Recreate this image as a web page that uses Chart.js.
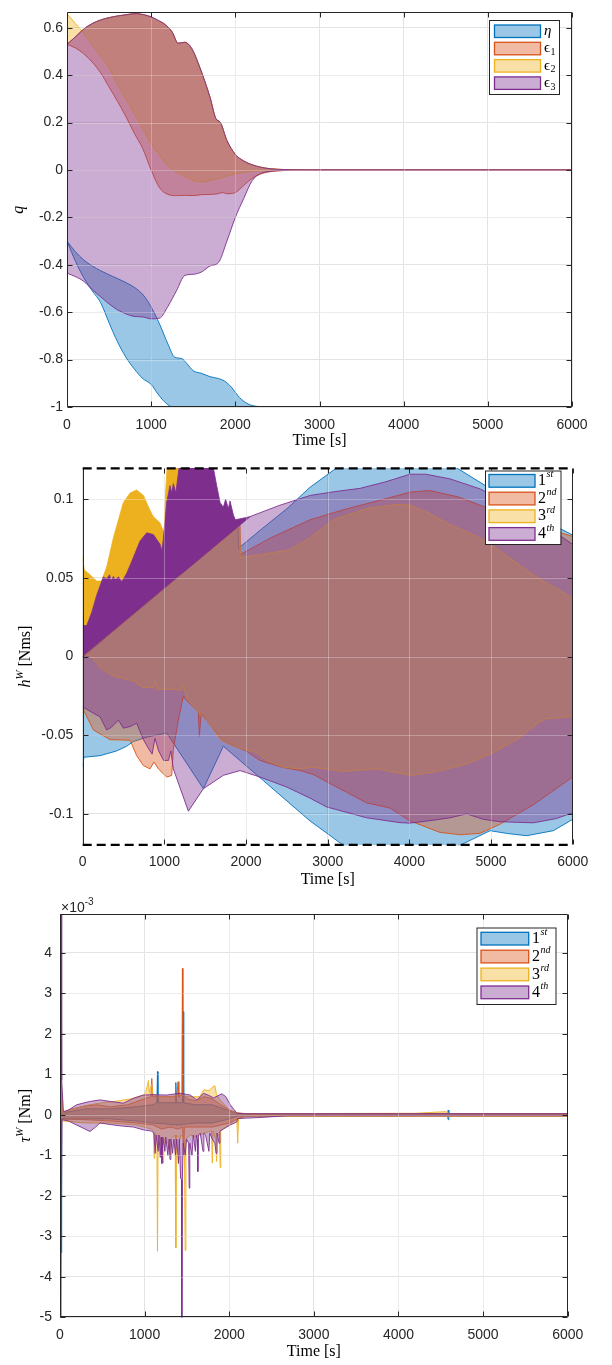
<!DOCTYPE html>
<html>
<head>
<meta charset="utf-8">
<script src="https://cdn.jsdelivr.net/npm/chart.js@4.4.1/dist/chart.umd.min.js"></script>
<style>
  body { margin: 0; background: #fff; width: 612px; height: 1365px; position: relative; overflow: hidden; }
  canvas { position: absolute; left: 0; }
</style>
</head>
<body>
<canvas id="qChart" width="612" height="450" style="top:0px"></canvas>
<canvas id="hChart" width="612" height="445" style="top:450px"></canvas>
<canvas id="tauChart" width="612" height="470" style="top:895px"></canvas>
<script>
// ===== TICKS / LABELS =====
const timeTicks = [0, 1000, 2000, 3000, 4000, 5000, 6000];
const qTicks = [-1, -0.8, -0.6, -0.4, -0.2, 0, 0.2, 0.4, 0.6];
const hTicks = [-0.1, -0.05, 0, 0.05, 0.1];
const tauTicks = [-5, -4, -3, -2, -1, 0, 1, 2, 3, 4];

const qNames = [{ b: 'η', italic: true }, { b: 'ϵ', sub: '1' }, { b: 'ϵ', sub: '2' }, { b: 'ϵ', sub: '3' }];
const wheelNames = [{ b: '1', sup: 'st' }, { b: '2', sup: 'nd' }, { b: '3', sup: 'rd' }, { b: '4', sup: 'th' }];

// ===== PANEL 1: quaternion envelopes [time s, q] =====
const etaUpper = [[0,-0.30],[100,-0.345],[200,-0.38],[300,-0.405],[400,-0.425],[500,-0.442],[600,-0.458],[700,-0.475],[800,-0.495],[900,-0.525],[1000,-0.578],[1100,-0.65],[1200,-0.735],[1280,-0.79],[1360,-0.795],[1420,-0.815],[1500,-0.847],[1600,-0.858],[1700,-0.872],[1800,-0.88],[1870,-0.89],[1950,-0.915],[2050,-0.96],[2150,-0.987],[2250,-0.997],[2400,-1],[6000,-1]];
const etaLower = [[0,-0.30],[100,-0.385],[200,-0.455],[300,-0.51],[400,-0.56],[500,-0.645],[600,-0.725],[700,-0.79],[800,-0.84],[900,-0.88],[1000,-0.905],[1080,-0.945],[1180,-0.985],[1260,-1],[6000,-1]];
const epsTop = [[0,0.53],[100,0.562],[200,0.595],[300,0.618],[400,0.633],[500,0.643],[600,0.65],[700,0.655],[820,0.66],[900,0.656],[1000,0.646],[1100,0.628],[1150,0.618],[1250,0.582],[1320,0.535],[1400,0.539],[1480,0.514],[1580,0.431],[1700,0.306],[1770,0.216],[1820,0.202],[1900,0.125],[2000,0.066],[2100,0.038],[2200,0.022],[2300,0.012],[2400,0.006],[2500,0.003],[2650,0.001],[2800,0],[6000,0]];
const eps1Lower = [[0,0.53],[100,0.515],[200,0.49],[300,0.455],[400,0.41],[500,0.35],[600,0.29],[700,0.225],[800,0.155],[900,0.09],[1000,0.0],[1100,-0.075],[1200,-0.103],[1300,-0.108],[1400,-0.107],[1500,-0.108],[1600,-0.104],[1700,-0.103],[1800,-0.1],[1850,-0.095],[1900,-0.1],[2000,-0.095],[2100,-0.065],[2200,-0.035],[2300,-0.017],[2400,-0.008],[2500,-0.004],[2600,-0.002],[2800,0],[6000,0]];
const eps2Lower = [[0,0.66],[100,0.618],[200,0.576],[300,0.528],[400,0.479],[500,0.43],[600,0.361],[700,0.299],[800,0.236],[900,0.174],[1000,0.111],[1100,0.063],[1200,0.018],[1300,-0.01],[1400,-0.027],[1500,-0.045],[1600,-0.05],[1700,-0.044],[1800,-0.036],[1900,-0.025],[2000,-0.016],[2100,-0.01],[2200,-0.005],[2300,-0.003],[2400,-0.001],[2600,0],[6000,0]];
const eps3Lower = [[0,-0.435],[100,-0.45],[200,-0.47],[300,-0.505],[400,-0.535],[500,-0.565],[600,-0.59],[700,-0.607],[800,-0.618],[900,-0.62],[1000,-0.628],[1100,-0.625],[1200,-0.575],[1300,-0.51],[1400,-0.445],[1500,-0.44],[1600,-0.43],[1700,-0.405],[1800,-0.39],[1900,-0.3],[2000,-0.2],[2100,-0.12],[2200,-0.045],[2300,-0.015],[2400,-0.006],[2500,-0.003],[2600,-0.001],[2700,0],[6000,0]];

// ===== PANEL 2: wheel momentum envelopes [time s, Nms] =====
const h1Upper = [[0,0],[1850,0.0803],[1900,0.0825],[1910,0.069],[2200,0.0815],[2500,0.094],[2784,0.1077],[3110,0.12],[3500,0.128],[3850,0.1305],[4250,0.127],[4580,0.12],[4866,0.1108],[5200,0.1],[5600,0.088],[6000,0.0773]];
const h1Lower = [[0,-0.07],[15,-0.064],[212,-0.063],[416,-0.06],[539,-0.057],[620,-0.054],[800,-0.051],[1029,-0.0486],[1478,-0.084],[1722,-0.057],[2200,-0.0783],[2784,-0.1045],[3192,-0.12],[3900,-0.127],[4620,-0.12],[4988,-0.1107],[5200,-0.1125],[5436,-0.1139],[5763,-0.1107],[6000,-0.1035]];
const h2Upper = [[0,0],[1870,0.0812],[1925,0.0835],[1932,0.065],[2300,0.0755],[2784,0.087],[3200,0.0935],[3682,0.1],[4009,0.1046],[4254,0.1056],[4600,0.1015],[4866,0.0963],[5300,0.088],[5700,0.081],[6000,0.0765]];
const h2Lower = [[0,-0.033],[131,-0.0466],[335,-0.0528],[580,-0.0532],[661,-0.063],[743,-0.0693],[824,-0.0714],[873,-0.067],[927,-0.0714],[1029,-0.0766],[1090,-0.0756],[1110,-0.059],[1171,-0.0404],[1233,-0.025],[1273,-0.028],[1416,-0.0352],[1429,-0.0507],[1449,-0.0362],[1722,-0.0538],[2000,-0.06],[2171,-0.066],[2450,-0.0705],[2661,-0.0724],[2824,-0.075],[3069,-0.0818],[3477,-0.093],[3763,-0.0963],[4009,-0.1045],[4375,-0.1118],[4620,-0.1133],[4865,-0.1124],[5110,-0.1066],[5518,-0.0942],[6000,-0.0766]];
const h3Upper = [[0,0],[1870,0.081],[1925,0.0835],[1932,0.063],[2200,0.065],[2539,0.068],[2784,0.0756],[3070,0.087],[3478,0.0942],[3846,0.0967],[4009,0.0963],[4250,0.091],[4498,0.0839],[4866,0.0756],[5111,0.0673],[5519,0.0518],[6000,0.0373]];
const h3Lower = [[0,0.002],[110,0],[212,-0.0072],[376,-0.0124],[620,-0.0155],[743,-0.0197],[865,-0.0197],[886,-0.0155],[910,-0.021],[1110,-0.0207],[1200,-0.0215],[1233,-0.0186],[1273,-0.027],[1437,-0.037],[1518,-0.0404],[1682,-0.0528],[1845,-0.057],[2131,-0.0611],[2253,-0.0662],[2457,-0.0704],[2661,-0.0714],[2824,-0.0704],[3192,-0.073],[3600,-0.0714],[4009,-0.0755],[4294,-0.0735],[4702,-0.0683],[4988,-0.0621],[5314,-0.0528],[5600,-0.0414],[5680,-0.0395],[6000,-0.0383]];
const h4Upper = [[0,0],[1950,0.0847],[2049,0.089],[2400,0.096],[2786,0.1025],[3100,0.105],[3397,0.107],[3700,0.111],[4009,0.116],[4200,0.116],[4500,0.113],[4868,0.1066],[5300,0.095],[5700,0.082],[6000,0.0714]];
const h4Lower = [[0,-0.032],[131,-0.036],[212,-0.0383],[294,-0.0466],[350,-0.045],[437,-0.0404],[498,-0.0455],[580,-0.0445],[661,-0.0424],[743,-0.0528],[800,-0.058],[850,-0.062],[885,-0.052],[930,-0.06],[990,-0.066],[1050,-0.066],[1080,-0.06],[1110,-0.0714],[1294,-0.0983],[1478,-0.084],[1722,-0.0755],[1927,-0.0725],[2171,-0.0766],[2500,-0.083],[2784,-0.09],[2987,-0.0956],[3477,-0.1025],[3886,-0.1056],[4009,-0.1059],[4300,-0.104],[4498,-0.1025],[4702,-0.1],[4906,-0.1035],[5110,-0.105],[5518,-0.1057],[5800,-0.103],[6000,-0.0993]];
// early saturated bursts (opaque patches above the ramp)
const h4Burst = [[0,0.0197],[49,0.0197],[110,0.028],[171,0.039],[253,0.0507],[290,0.0495],[330,0.052],[345,0.048],[375,0.051],[400,0.049],[437,0.0507],[478,0.0476],[539,0.053],[620,0.063],[702,0.0735],[784,0.0787],[865,0.0776],[947,0.0714],[967,0.0673],[985,0.0735],[1029,0.0983],[1069,0.1087],[1090,0.104],[1110,0.11],[1140,0.104],[1192,0.125],[1559,0.125],[1600,0.12],[1641,0.1087],[1682,0.098],[1722,0.095],[1750,0.1],[1784,0.094],[1804,0.099],[1845,0.09],[1869,0.087],[2049,0.089]];
const h3Burst = [[0,0.063],[20,0.055],[90,0.052],[171,0.048],[230,0.048],[294,0.057],[376,0.0756],[498,0.098],[580,0.104],[661,0.106],[743,0.1025],[824,0.093],[865,0.089],[947,0.085],[985,0.08],[995,0.075],[1010,0.1],[1040,0.125],[1200,0.125],[1215,0.12]];

// ===== PANEL 3: wheel torque envelopes [time s, 1e-3 Nm] =====
const tau1Upper = [[0,0.2],[14,0.05],[40,0.05],[300,0.15],[600,0.15],[900,0.2],[1100,0.25],[1145,0.3],[1152,1.07],[1158,0.3],[1300,0.3],[1362,0.3],[1369,0.8],[1375,0.3],[1448,0.3],[1455,2.55],[1462,0.3],[1600,0.25],[1800,0.25],[2000,0.1],[2100,0.03],[4580,0.03],[4588,0.12],[4595,0.03],[6000,0.03]];
const tau1Lower = [[0,-0.1],[8,-5.2],[13,-3.4],[20,-0.1],[40,-0.1],[300,-0.1],[600,-0.1],[900,-0.15],[1100,-0.2],[1400,-0.25],[1600,-0.2],[1800,-0.2],[2000,-0.1],[2100,-0.03],[4580,-0.03],[4588,-0.12],[4595,-0.03],[6000,-0.03]];
const tau2Upper = [[0,0.2],[10,0.9],[16,0.85],[28,0.05],[100,0.12],[300,0.22],[430,0.25],[600,0.2],[800,0.25],[1000,0.4],[1075,0.45],[1085,0.9],[1095,0.45],[1200,0.45],[1380,0.45],[1395,0.82],[1405,0.45],[1440,0.5],[1447,3.62],[1453,0.5],[1500,0.4],[1600,0.35],[1700,0.45],[1800,0.4],[1900,0.25],[2000,0.12],[2100,0.05],[2200,0.03],[6000,0.03]];
const tau2Lower = [[0,-0.3],[10,-0.1],[40,-0.1],[300,-0.12],[600,-0.15],[900,-0.2],[1100,-0.25],[1200,-0.35],[1300,-0.3],[1400,-0.35],[1450,-0.3],[1460,-1.0],[1470,-0.3],[1600,-0.3],[1800,-0.3],[1900,-0.25],[2000,-0.2],[2100,-0.1],[2200,-0.03],[6000,-0.03]];
const tau3Upper = [[0,0.3],[8,4.5],[13,3.8],[18,0.5],[34,0.05],[100,0.12],[250,0.2],[350,0.25],[500,0.3],[700,0.35],[850,0.4],[1000,0.5],[1030,0.7],[1045,0.85],[1055,0.55],[1080,0.75],[1100,0.5],[1200,0.45],[1300,0.45],[1380,0.48],[1440,0.5],[1500,0.45],[1580,0.45],[1650,0.45],[1700,0.62],[1760,0.6],[1800,0.68],[1830,0.72],[1850,0.5],[1900,0.35],[2000,0.12],[2100,0.04],[2200,0.03],[4200,0.04],[4560,0.08],[4600,0.03],[6000,0.03]];
const tau3Lower = [[0,-0.5],[10,-0.2],[40,-0.15],[300,-0.2],[600,-0.2],[900,-0.25],[1080,-0.35],[1105,-0.4],[1112,-1.07],[1120,-0.45],[1145,-0.5],[1152,-3.37],[1160,-0.5],[1190,-0.6],[1215,-1.1],[1223,-1.19],[1232,-0.6],[1280,-0.7],[1300,-1.0],[1310,-0.6],[1360,-0.5],[1369,-3.29],[1376,-0.5],[1420,-0.6],[1430,-0.5],[1470,-0.6],[1479,-3.35],[1488,-0.6],[1540,-0.5],[1600,-0.55],[1700,-0.45],[1790,-0.4],[1800,-1.19],[1810,-0.4],[1840,-0.6],[1850,-1.15],[1860,-0.5],[1885,-0.5],[1893,-1.3],[1900,-0.4],[1960,-0.3],[2090,-0.1],[2100,-0.7],[2110,-0.1],[2200,-0.03],[6000,-0.03]];
const tau4Upper = [[0,0.9],[8,4.95],[14,4.95],[20,0.85],[40,0.08],[100,0.12],[197,0.25],[350,0.33],[473,0.37],[600,0.33],[750,0.29],[868,0.41],[986,0.49],[1100,0.5],[1262,0.49],[1420,0.535],[1538,0.49],[1617,0.37],[1696,0.535],[1760,0.48],[1815,0.42],[1913,0.52],[1960,0.45],[2012,0.25],[2091,0.04],[2200,0.03],[6000,0.03]];
const tau4Lower = [[0,-0.1],[10,-3.4],[16,-2.6],[24,-0.12],[100,-0.15],[237,-0.29],[355,-0.41],[420,-0.3],[473,-0.2],[600,-0.24],[710,-0.27],[868,-0.3],[986,-0.37],[1080,-0.4],[1110,-0.45],[1125,-0.95],[1135,-0.5],[1160,-0.9],[1170,-0.5],[1185,-1.05],[1195,-0.55],[1205,-1.2],[1215,-0.55],[1240,-0.9],[1250,-0.55],[1275,-1.0],[1290,-0.6],[1300,-1.1],[1310,-0.6],[1330,-0.95],[1345,-0.6],[1365,-1.0],[1380,-0.6],[1400,-1.2],[1410,-0.6],[1425,-1.56],[1436,-1.6],[1440,-5.1],[1446,-1.6],[1455,-0.7],[1480,-1.0],[1495,-0.6],[1520,-0.7],[1527,-1.81],[1534,-0.7],[1560,-1.0],[1575,-0.5],[1600,-0.9],[1612,-0.5],[1622,-0.6],[1629,-1.4],[1636,-0.5],[1657,-0.45],[1690,-0.9],[1700,-0.45],[1720,-0.5],[1760,-0.9],[1770,-0.45],[1800,-0.6],[1830,-0.7],[1845,-0.95],[1855,-0.45],[1880,-0.7],[1890,-0.4],[1930,-0.35],[2012,-0.25],[2091,-0.17],[2100,-0.09],[2400,-0.06],[2700,-0.02],[2900,-0.02],[6000,-0.02]];

// ===== STYLE =====
const BLUE = [0, 114, 189], ORANGE = [217, 83, 25], YELLOW = [237, 177, 32], PURPLE = [126, 47, 142];
const legendColors = [BLUE, ORANGE, YELLOW, PURPLE];
const SANS = "'Liberation Sans', Arial, Helvetica, sans-serif";
const SERIF = "'Liberation Serif', 'DejaVu Serif', 'Times New Roman', serif";
const AXIS = '#262626';

function rgba(c, a) { return `rgba(${c[0]},${c[1]},${c[2]},${a})`; }
function pts(arr) { return arr.map(([x, y]) => ({ x, y })); }

// one shaded envelope = upper line filled down to the lower line
function band(upper, lower, c, smooth) {
  const common = {
    pointRadius: 0, borderWidth: 0.9, borderColor: rgba(c, 1),
    borderJoinStyle: 'round', tension: 0,
    cubicInterpolationMode: smooth ? 'monotone' : 'default'
  };
  return [
    Object.assign({}, common, { data: pts(upper), fill: '+1', backgroundColor: rgba(c, 0.4) }),
    Object.assign({}, common, { data: pts(lower), fill: false })
  ];
}

// ===== FRAME, GRID OVERLAY, LEGEND, TITLES =====
const frameAndLegend = {
  id: 'frameAndLegend',
  afterDatasetsDraw(chart, args, o) {
    const { ctx, chartArea: a } = chart;
    const xs = chart.scales.x, ys = chart.scales.y;
    const xp = xs.ticks.map(t => Math.round(xs.getPixelForValue(t.value)) + 0.5);
    const yp = ys.ticks.map(t => Math.round(ys.getPixelForValue(t.value)) + 0.5);
    const L = Math.round(a.left) + 0.5, R = Math.round(a.right) - 0.5;
    const T = Math.round(a.top) + 0.5, B = Math.round(a.bottom) - 0.5;
    ctx.save();

    // grid shows through the shaded areas
    ctx.strokeStyle = 'rgba(255,255,255,0.3)';
    ctx.lineWidth = 1;
    ctx.beginPath();
    xp.forEach(p => { if (p > L + 1 && p < R - 1) { ctx.moveTo(p, T); ctx.lineTo(p, B); } });
    yp.forEach(p => { if (p > T + 1 && p < B - 1) { ctx.moveTo(L, p); ctx.lineTo(R, p); } });
    ctx.stroke();

    // box + inward ticks
    ctx.strokeStyle = AXIS;
    ctx.beginPath();
    ctx.moveTo(L, T); ctx.lineTo(L, B);
    ctx.moveTo(R, T); ctx.lineTo(R, B);
    if (!o.dashed) { ctx.moveTo(L, T); ctx.lineTo(R, T); ctx.moveTo(L, B); ctx.lineTo(R, B); }
    const tl = 5;
    xp.forEach(p => { ctx.moveTo(p, T); ctx.lineTo(p, T + tl); ctx.moveTo(p, B); ctx.lineTo(p, B - tl); });
    yp.forEach(p => { ctx.moveTo(L, p); ctx.lineTo(L + tl, p); ctx.moveTo(R, p); ctx.lineTo(R - tl, p); });
    ctx.stroke();
    if (o.dashed) {
      ctx.strokeStyle = '#000';
      ctx.lineWidth = 2.2;
      ctx.setLineDash([9, 5]);
      ctx.beginPath();
      ctx.moveTo(a.left, a.top + 0.5); ctx.lineTo(a.right, a.top + 0.5);
      ctx.moveTo(a.left, a.bottom - 0.5); ctx.lineTo(a.right, a.bottom - 0.5);
      ctx.stroke();
      ctx.setLineDash([]);
    }

    // legend box
    const G = o.legend;
    ctx.fillStyle = '#fff';
    ctx.fillRect(G.x, G.y, G.w, G.h);
    ctx.strokeStyle = AXIS;
    ctx.lineWidth = 1;
    ctx.strokeRect(G.x + 0.5, G.y + 0.5, G.w, G.h);
    G.names.forEach((n, i) => {
      const c = legendColors[i];
      const sy = G.sy + i * G.step;
      ctx.fillStyle = rgba(c, 0.4);
      ctx.fillRect(G.sx, sy, G.sw, G.sh);
      ctx.strokeStyle = rgba(c, 1);
      ctx.lineWidth = 1.3;
      ctx.strokeRect(G.sx, sy, G.sw, G.sh);
      const cy = sy + G.sh / 2;
      ctx.fillStyle = '#000';
      ctx.textAlign = 'left';
      ctx.textBaseline = 'middle';
      ctx.font = (n.italic ? 'italic ' : '') + G.size + 'px ' + SERIF;
      ctx.fillText(n.b, G.tx, cy);
      const w = ctx.measureText(n.b).width;
      if (n.sub) { ctx.font = '10px ' + SERIF; ctx.fillText(n.sub, G.tx + w + 0.5, cy + 4); }
      if (n.sup) { ctx.font = 'italic 10px ' + SERIF; ctx.fillText(n.sup, G.tx + w + 0.5, cy - 6); }
    });

    // rotated y title with superscripts
    const Y = o.yTitle;
    ctx.save();
    ctx.translate(Y.x, (a.top + a.bottom) / 2);
    ctx.rotate(-Math.PI / 2);
    ctx.fillStyle = '#000';
    ctx.textBaseline = 'middle';
    ctx.textAlign = 'left';
    const fontOf = p => (p.italic ? 'italic ' : '') + (p.sup ? 11 : 16) + 'px ' + SERIF;
    let total = 0;
    Y.parts.forEach(p => { ctx.font = fontOf(p); total += ctx.measureText(p.t).width; });
    let pos = -total / 2;
    Y.parts.forEach(p => {
      ctx.font = fontOf(p);
      ctx.fillText(p.t, pos, p.sup ? -6 : 0);
      pos += ctx.measureText(p.t).width;
    });
    ctx.restore();

    // axis exponent
    if (o.exponent) {
      const E = o.exponent;
      ctx.fillStyle = AXIS;
      ctx.textAlign = 'left';
      ctx.textBaseline = 'alphabetic';
      ctx.font = '14px ' + SANS;
      ctx.fillText('×10', E.x, E.y);
      const w = ctx.measureText('×10').width;
      ctx.font = '10px ' + SANS;
      ctx.fillText('-3', E.x + w, E.y - 7);
    }
    ctx.restore();
  }
};

function fmt(v) { return String(+v.toFixed(3)); }

function makePanel(id, p) {
  return new Chart(document.getElementById(id), {
    type: 'line',
    data: { datasets: p.datasets },
    options: {
      responsive: false,
      animation: false,
      events: [],
      layout: { padding: { top: p.top, right: p.right, bottom: 0, left: 0 } },
      plugins: { legend: { display: false }, tooltip: { enabled: false }, frameAndLegend: p.extras },
      scales: {
        x: {
          type: 'linear', min: 0, max: 6000,
          afterBuildTicks: s => { s.ticks = timeTicks.map(v => ({ value: v })); },
          afterFit: s => { s.height = p.xHeight; },
          grid: { color: '#e3e3e3', drawTicks: false },
          border: { display: false },
          ticks: { padding: p.xPad, color: AXIS, font: { family: SANS, size: 14 }, maxRotation: 0, autoSkip: false, callback: v => String(v) },
          title: { display: true, text: 'Time [s]', color: '#000', font: { family: SERIF, size: 16 }, padding: { top: 0, bottom: p.titlePad } }
        },
        y: {
          type: 'linear', min: p.yMin, max: p.yMax,
          afterBuildTicks: s => { s.ticks = p.yTicks.map(v => ({ value: v })); },
          afterFit: s => { s.width = p.yWidth; },
          grid: { color: '#e3e3e3', drawTicks: false },
          border: { display: false },
          ticks: { padding: p.yPad, color: AXIS, font: { family: SANS, size: 14 }, autoSkip: false, callback: v => fmt(v) }
        }
      }
    },
    plugins: [frameAndLegend]
  });
}

// ----- panel 1 -----
makePanel('qChart', {
  top: 7, right: 40, xHeight: 43, yWidth: 67, xPad: 9.6, yPad: 4, titlePad: 0,
  yMin: -1, yMax: 0.665, yTicks: qTicks,
  datasets: [
    ...band(epsTop, eps3Lower, PURPLE, true),
    ...band(epsTop, eps2Lower, YELLOW, true),
    ...band(epsTop, eps1Lower, ORANGE, true),
    ...band(etaUpper, etaLower, BLUE, true)
  ],
  extras: {
    legend: { names: qNames, x: 489, y: 20, w: 70, h: 74, sx: 494.5, sy: 25, sw: 46, sh: 12.5, step: 17.3, tx: 544, size: 15 },
    yTitle: { x: 19, parts: [{ t: 'q', italic: true }] }
  }
});

// ----- panel 2 -----
makePanel('hChart', {
  top: 8.3, right: 39.3, xHeight: 49.7, yWidth: 82.7, xPad: 8, yPad: 9.5, titlePad: 5.4,
  yMin: -0.12, yMax: 0.12, yTicks: hTicks,
  datasets: [
    { data: pts(h4Burst), fill: 2, backgroundColor: rgba(PURPLE, 1), borderColor: rgba(PURPLE, 1), borderWidth: 0.8, pointRadius: 0, tension: 0 },
    { data: pts(h3Burst), fill: 2, backgroundColor: rgba(YELLOW, 1), borderColor: rgba(YELLOW, 1), borderWidth: 0.8, pointRadius: 0, tension: 0 },
    ...band(h4Upper, h4Lower, PURPLE, false),
    ...band(h3Upper, h3Lower, YELLOW, false),
    ...band(h2Upper, h2Lower, ORANGE, false),
    ...band(h1Upper, h1Lower, BLUE, false)
  ],
  extras: {
    dashed: true,
    legend: { names: wheelNames, x: 485, y: 20.5, w: 75.5, h: 73.5, sx: 489, sy: 24.5, sw: 46, sh: 12.7, step: 17.7, tx: 538, size: 16 },
    yTitle: { x: 26, parts: [{ t: 'h', italic: true }, { t: 'W', italic: true, sup: true }, { t: ' [Nms]' }] }
  }
});

// ----- panel 3 -----
makePanel('tauChart', {
  top: 19.3, right: 44.3, xHeight: 47.7, yWidth: 60, xPad: 9.3, yPad: 8, titlePad: 3.4,
  yMin: -5, yMax: 4.955, yTicks: tauTicks,
  datasets: [
    ...band(tau4Upper, tau4Lower, PURPLE, false),
    ...band(tau3Upper, tau3Lower, YELLOW, false),
    ...band(tau2Upper, tau2Lower, ORANGE, false),
    ...band(tau1Upper, tau1Lower, BLUE, false)
  ],
  extras: {
    legend: { names: wheelNames, x: 476.5, y: 32.5, w: 79, h: 76.5, sx: 481, sy: 37.3, sw: 47.7, sh: 12.7, step: 17.9, tx: 532, size: 16 },
    yTitle: { x: 26, parts: [{ t: 'τ', italic: true }, { t: 'W', italic: true, sup: true }, { t: ' [Nm]' }] },
    exponent: { x: 61, y: 16.5 }
  }
});
</script>
</body>
</html>
